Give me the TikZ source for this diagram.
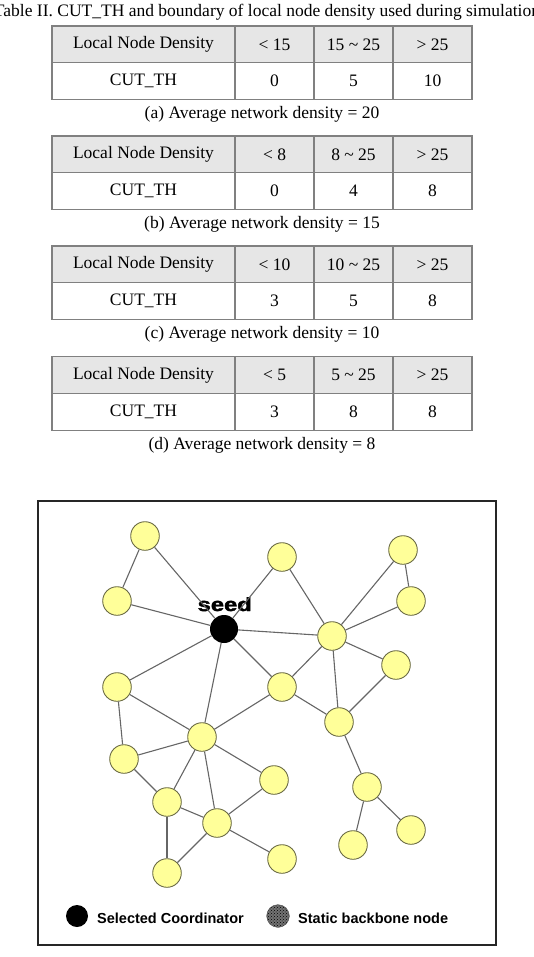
\documentclass[tikz,border=0pt]{standalone}
\usepackage{fontspec}
\setmainfont{Liberation Serif}
\setsansfont{Liberation Sans}
\newfontfamily\heavyfont{Liberation Sans Bold}[FakeBold=2]
\usepackage{graphicx}
\usetikzlibrary{positioning,patterns}
\definecolor{nodefill}{HTML}{FFFF99}
\definecolor{nodeline}{HTML}{6B6B45}
\definecolor{edgegray}{HTML}{666666}
\definecolor{rulegray}{HTML}{808080}
\definecolor{headfill}{HTML}{E6E6E6}

\begin{document}
\begin{tikzpicture}[
  x=1pt, y=-1pt,
  tabfont/.style={font=\fontsize{17.5}{20}\selectfont},
  cell/.style={tabfont, anchor=center, inner sep=0pt},
  rule/.style={draw=rulegray, line width=1.2pt},
  sensor/.style={circle, draw=nodeline, fill=nodefill, line width=0.9pt, minimum size=28.6pt, inner sep=0pt},
  coord/.style={circle, fill=black, minimum size=28pt, inner sep=0pt},
  backbone/.style={circle, draw=black!70, preaction={fill=black!55}, pattern=crosshatch dots, minimum size=22.7pt, inner sep=0pt},
  link/.style={draw=edgegray, line width=1.1pt},
  legtxt/.style={font=\sffamily\bfseries\fontsize{14.5}{16}\selectfont, anchor=base west, inner sep=0pt}
]
  \useasboundingbox (0,0) rectangle (534,957);

  % Titel
  \node[tabfont, anchor=base, inner sep=0pt] (title) at (267,16.7)
    {Table II. CUT\_TH and boundary of local node density used during simulation};

  % Tabellen (a)-(d)
  \foreach \k/\ty/\lo/\va/\vb/\vc/\avg in {a/26/15/0/5/10/20, b/136/8/0/4/8/15, c/246/10/3/5/8/10, d/356.7/5/3/8/8/8} {
    \fill[headfill] (52,\ty) rectangle (472,\ty+36.7);
    \draw[rule] (52,\ty) rectangle (472,\ty+73.4);
    \draw[rule] (52,\ty+36.7) -- (472,\ty+36.7);
    \foreach \cx in {235,314,393}
      \draw[rule] (\cx,\ty) -- (\cx,\ty+73.4);
    \node[cell] (h\k) at (143.5,\ty+18.35) {Local Node Density};
    \node[cell] (l\k) at (274.5,\ty+18.35) {< \lo};
    \node[cell] (m\k) at (353.5,\ty+18.35) {\lo\ \textasciitilde\ 25};
    \node[cell] (g\k) at (432.5,\ty+18.35) {> 25};
    \node[cell] (r\k) at (143.5,\ty+55) {CUT\_TH};
    \node[cell] (x\k) at (274.5,\ty+55) {\va};
    \node[cell] (y\k) at (353.5,\ty+55) {\vb};
    \node[cell] (z\k) at (432.5,\ty+55) {\vc};
    \node[cell] (cap\k) at (262,\ty+88.5) {(\k) Average network density = \avg};
  }

  % Rahmen
  \draw[line width=2.2pt, black!85] (38,501) rectangle (496,945);

  % Knoten
  \node[coord] (seed) at (224,629) {};
  \node[font=\heavyfont\fontsize{19}{19}\selectfont, anchor=base, inner sep=0pt] (seedlbl) at (224.7,611) {\scalebox{1.25}[1]{seed}};
  \node[sensor] (p1) at (145,536) {};
  \node[sensor] (p2) at (117,601) {};
  \node[sensor] (p3) at (282,557) {};
  \node[sensor] (p4) at (403,550) {};
  \node[sensor] (p5) at (411,601) {};
  \node[sensor] (p6) at (332,636) {};
  \node[sensor] (p7) at (396,665) {};
  \node[sensor] (p8) at (282,687) {};
  \node[sensor] (p9) at (117,687) {};
  \node[sensor] (p10) at (339,722) {};
  \node[sensor] (p11) at (202,737) {};
  \node[sensor] (p12) at (124,759) {};
  \node[sensor] (p13) at (274,780) {};
  \node[sensor] (p14) at (167,802) {};
  \node[sensor] (p15) at (217,823) {};
  \node[sensor] (p16) at (367,787) {};
  \node[sensor] (p17) at (411,830) {};
  \node[sensor] (p18) at (353,845) {};
  \node[sensor] (p19) at (282,859) {};
  \node[sensor] (p20) at (167,873) {};

  % Kanten
  \foreach \a/\b in {p1/p2, p1/seed, p2/seed, seed/p3, p3/p6, seed/p6, p4/p6, p4/p5,
                     p5/p6, p6/p7, p6/p8, p6/p10, p7/p10, seed/p8, seed/p9, seed/p11,
                     p8/p10, p9/p11, p9/p12, p8/p11, p11/p12, p11/p13, p11/p14, p11/p15,
                     p12/p14, p14/p15, p14/p20, p15/p20, p15/p13, p15/p19,
                     p10/p16, p16/p17, p16/p18}
    \draw[link] (\a) -- (\b);

  % Legende
  \node[coord, minimum size=22pt] (legc) at (77,916) {};
  \node[legtxt] (legct) at (97,923) {Selected Coordinator};
  \node[backbone] (legb) at (278,916) {};
  \node[legtxt] (legbt) at (298,923) {Static backbone node};

\end{tikzpicture}
\end{document}
